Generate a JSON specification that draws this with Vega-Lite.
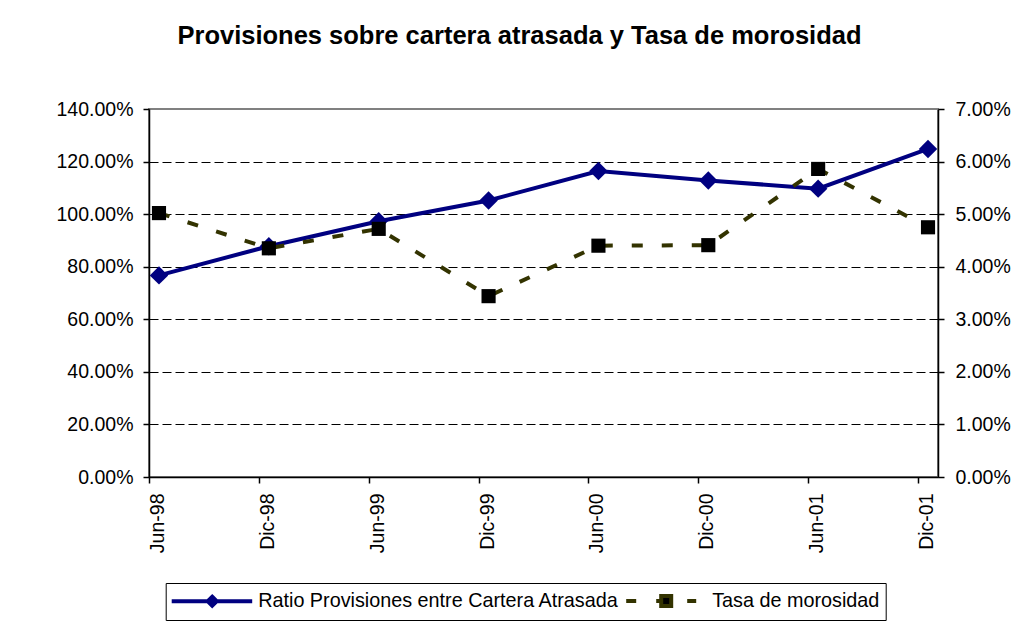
{
  "$schema": "https://vega.github.io/schema/vega-lite/v6.json",
  "width": 789,
  "height": 368,
  "autosize": {"type": "none"},
  "padding": {"left": 149, "top": 109, "right": 88, "bottom": 151},
  "background": "white",
  "config": {
    "font": "Liberation Sans",
    "view": {"stroke": "#808080", "strokeWidth": 2},
    "axis": {"labelFont": "Liberation Sans", "labelFontSize": 19.5, "labelColor": "black", "domainColor": "black", "tickColor": "black", "domainWidth": 1.5, "tickWidth": 1.5, "tickSize": 6, "title": null}
  },
  "title": {
    "text": "Provisiones sobre cartera atrasada y Tasa de morosidad",
    "font": "Liberation Sans",
    "fontSize": 25.5,
    "fontWeight": "bold",
    "color": "black",
    "anchor": "middle",
    "frame": "group",
    "dx": -24,
    "offset": 50
  },
  "data": {
    "values": [
      {"fecha": "Jun-98", "serie": "Ratio Provisiones entre Cartera Atrasada", "valor": 0.767},
      {"fecha": "Dic-98", "serie": "Ratio Provisiones entre Cartera Atrasada", "valor": 0.878},
      {"fecha": "Jun-99", "serie": "Ratio Provisiones entre Cartera Atrasada", "valor": 0.973},
      {"fecha": "Dic-99", "serie": "Ratio Provisiones entre Cartera Atrasada", "valor": 1.052},
      {"fecha": "Jun-00", "serie": "Ratio Provisiones entre Cartera Atrasada", "valor": 1.164},
      {"fecha": "Dic-00", "serie": "Ratio Provisiones entre Cartera Atrasada", "valor": 1.128},
      {"fecha": "Jun-01", "serie": "Ratio Provisiones entre Cartera Atrasada", "valor": 1.097},
      {"fecha": "Dic-01", "serie": "Ratio Provisiones entre Cartera Atrasada", "valor": 1.248},
      {"fecha": "Jun-98", "serie": "Tasa de morosidad", "valor": 0.0502},
      {"fecha": "Dic-98", "serie": "Tasa de morosidad", "valor": 0.0435},
      {"fecha": "Jun-99", "serie": "Tasa de morosidad", "valor": 0.0472},
      {"fecha": "Dic-99", "serie": "Tasa de morosidad", "valor": 0.0344},
      {"fecha": "Jun-00", "serie": "Tasa de morosidad", "valor": 0.0440},
      {"fecha": "Dic-00", "serie": "Tasa de morosidad", "valor": 0.0441},
      {"fecha": "Jun-01", "serie": "Tasa de morosidad", "valor": 0.0586},
      {"fecha": "Dic-01", "serie": "Tasa de morosidad", "valor": 0.0475}
    ]
  },
  "encoding": {
    "x": {
      "field": "fecha",
      "type": "nominal",
      "sort": ["Jun-98", "Dic-98", "Jun-99", "Dic-99", "Jun-00", "Dic-00", "Jun-01", "Dic-01"],
      "scale": {"type": "point", "padding": 0.0909},
      "axis": {"labelAngle": -90, "labelPadding": 10, "tickOffset": -10, "labelOffset": 8.5, "grid": false}
    }
  },
  "layer": [
    {
      "transform": [{"filter": "datum.serie === 'Ratio Provisiones entre Cartera Atrasada'"}],
      "encoding": {
        "y": {
          "field": "valor",
          "type": "quantitative",
          "scale": {"domain": [0, 1.4], "nice": false},
          "axis": {
            "orient": "left",
            "values": [0, 0.2, 0.4, 0.6, 0.8, 1.0, 1.2, 1.4],
            "format": ".2%",
            "labelPadding": 10,
            "grid": true,
            "gridDash": [9, 4],
            "gridWidth": 1,
            "gridColor": {"condition": {"test": "datum.value > 1.39", "value": "#808080"}, "value": "black"}
          }
        }
      },
      "layer": [
        {
          "mark": {"type": "line", "strokeWidth": 4},
          "encoding": {
            "stroke": {
              "field": "serie",
              "type": "nominal",
              "scale": {"domain": ["Ratio Provisiones entre Cartera Atrasada", "Tasa de morosidad"], "range": ["#000080", "#333300"]},
              "legend": {
                "orient": "none",
                "legendX": 16.7,
                "legendY": 474,
                "direction": "horizontal",
                "columns": 2,
                "title": null,
                "strokeColor": "black",
                "padding": 6,
                "columnPadding": -2,
                "symbolSize": 400,
                "symbolOffset": 28.5,
                "labelOffset": 34,
                "labelFont": "Liberation Sans",
                "labelFontSize": 19.8,
                "labelColor": "black",
                "labelLimit": 1000,
                "encode": {
                  "symbols": {
                    "update": {
                      "shape": {"signal": "datum.value === 'Tasa de morosidad' ? 'M-4,0L-3,0M-1,0L-0.6,0M2.1,0L3,0M-0.5,-0.5L0.5,-0.5L0.5,0.5L-0.5,0.5Z' : 'M-4.05,0L4,0M0,-0.45L0.45,0L0,0.45L-0.45,0Z'"},
                      "fill": {"signal": "datum.value === 'Tasa de morosidad' ? 'black' : '#000080'"},
                      "stroke": {"signal": "datum.value === 'Tasa de morosidad' ? '#333300' : '#000080'"},
                      "strokeWidth": {"value": 4},
                      "opacity": {"value": 1},
                      "fillOpacity": {"value": 1}
                    }
                  }
                }
              }
            }
          }
        },
        {
          "mark": {"type": "point", "shape": "diamond", "filled": true, "size": 340, "color": "#000080", "opacity": 1}
        }
      ]
    },
    {
      "transform": [{"filter": "datum.serie === 'Tasa de morosidad'"}],
      "encoding": {
        "y": {
          "field": "valor",
          "type": "quantitative",
          "scale": {"domain": [0, 0.07], "nice": false},
          "axis": {
            "orient": "right",
            "values": [0, 0.01, 0.02, 0.03, 0.04, 0.05, 0.06, 0.07],
            "format": ".2%",
            "labelPadding": 11,
            "grid": false
          }
        }
      },
      "layer": [
        {
          "mark": {"type": "line", "strokeWidth": 4, "strokeDash": [11, 19]},
          "encoding": {
            "stroke": {"field": "serie", "type": "nominal", "legend": null}
          }
        },
        {
          "mark": {"type": "point", "shape": "square", "filled": true, "size": 200, "color": "black", "opacity": 1}
        }
      ]
    }
  ],
  "resolve": {"scale": {"y": "independent"}}
}
